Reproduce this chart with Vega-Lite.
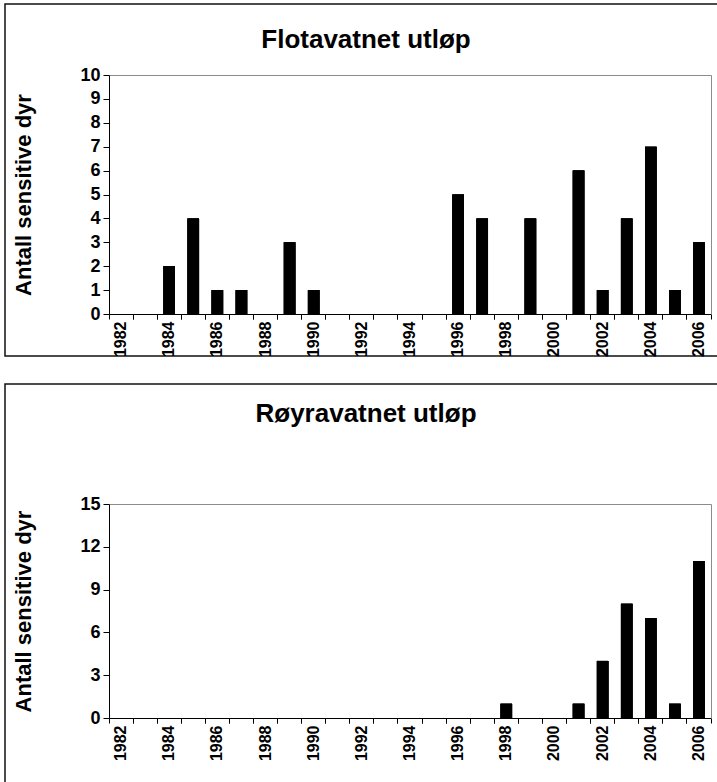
{
  "$schema": "https://vega.github.io/schema/vega-lite/v6.json",
  "background": "white",
  "padding": {"left": 4, "top": 3, "right": 0, "bottom": 0},
  "spacing": 25,
  "datasets": {
    "flota": [
      {"year": 1982, "n": 0}, {"year": 1983, "n": 0}, {"year": 1984, "n": 2}, {"year": 1985, "n": 4},
      {"year": 1986, "n": 1}, {"year": 1987, "n": 1}, {"year": 1988, "n": 0}, {"year": 1989, "n": 3},
      {"year": 1990, "n": 1}, {"year": 1991, "n": 0}, {"year": 1992, "n": 0}, {"year": 1993, "n": 0},
      {"year": 1994, "n": 0}, {"year": 1995, "n": 0}, {"year": 1996, "n": 5}, {"year": 1997, "n": 4},
      {"year": 1998, "n": 0}, {"year": 1999, "n": 4}, {"year": 2000, "n": 0}, {"year": 2001, "n": 6},
      {"year": 2002, "n": 1}, {"year": 2003, "n": 4}, {"year": 2004, "n": 7}, {"year": 2005, "n": 1},
      {"year": 2006, "n": 3}
    ],
    "royra": [
      {"year": 1982, "n": 0}, {"year": 1983, "n": 0}, {"year": 1984, "n": 0}, {"year": 1985, "n": 0},
      {"year": 1986, "n": 0}, {"year": 1987, "n": 0}, {"year": 1988, "n": 0}, {"year": 1989, "n": 0},
      {"year": 1990, "n": 0}, {"year": 1991, "n": 0}, {"year": 1992, "n": 0}, {"year": 1993, "n": 0},
      {"year": 1994, "n": 0}, {"year": 1995, "n": 0}, {"year": 1996, "n": 0}, {"year": 1997, "n": 0},
      {"year": 1998, "n": 1}, {"year": 1999, "n": 0}, {"year": 2000, "n": 0}, {"year": 2001, "n": 1},
      {"year": 2002, "n": 4}, {"year": 2003, "n": 8}, {"year": 2004, "n": 7}, {"year": 2005, "n": 1},
      {"year": 2006, "n": 11}
    ]
  },
  "config": {
    "view": {"stroke": "#111111", "strokeWidth": 1.5},
    "axis": {
      "labelFont": "Liberation Sans", "labelFontSize": 16, "labelFontWeight": "bold", "labelColor": "black",
      "titleFont": "Liberation Sans", "titleFontSize": 22, "titleFontWeight": "bold", "titleColor": "black",
      "tickColor": "black", "domainColor": "black", "grid": false
    },
    "title": {"font": "Liberation Sans", "fontSize": 26, "fontWeight": "bold", "color": "black", "anchor": "middle", "frame": "group", "baseline": "middle"}
  },
  "vconcat": [
    {
      "width": 722,
      "height": 352,
      "title": {"text": "Flotavatnet utløp", "offset": -49},
      "data": {"name": "flota"},
      "resolve": {"axis": {"x": "independent", "y": "independent"}},
      "layer": [
        {
          "mark": {"type": "bar", "color": "black", "width": {"band": 0.48}},
          "encoding": {
            "x": {"field": "year", "type": "ordinal", "scale": {"range": [104, 706], "paddingInner": 0, "paddingOuter": 0},
                  "axis": {"orient": "bottom", "offset": -42, "bandPosition": 0, "labels": false, "ticks": true, "tickSize": 5, "domain": true, "title": null}},
            "y": {"field": "n", "type": "quantitative", "scale": {"domain": [0, 10], "range": [310, 71], "nice": false},
                  "axis": {"orient": "left", "offset": -104, "values": [0, 1, 2, 3, 4, 5, 6, 7, 8, 9, 10], "tickSize": 6, "labelPadding": 3, "labelFontSize": 18, "title": "Antall sensitive dyr", "titlePadding": 44}}
          }
        },
        {
          "mark": {"type": "bar", "color": "black", "width": {"band": 0.48}},
          "encoding": {
            "x": {"field": "year", "type": "ordinal", "scale": {"range": [104, 706], "paddingInner": 0, "paddingOuter": 0},
                  "axis": {"orient": "bottom", "offset": -42, "values": [1982, 1984, 1986, 1988, 1990, 1992, 1994, 1996, 1998, 2000, 2002, 2004, 2006], "labelAngle": -90, "ticks": false, "tickSize": 0, "domain": false, "labelPadding": 7, "title": null}},
            "y": {"field": "n", "type": "quantitative", "scale": {"domain": [0, 10], "range": [310, 71], "nice": false},
                  "axis": {"orient": "right", "offset": -16, "labels": false, "ticks": false, "domain": true, "domainColor": "#8c8c8c", "title": null}}
          }
        },
        {
          "mark": {"type": "bar", "color": "black", "width": {"band": 0.48}},
          "encoding": {
            "x": {"field": "year", "type": "ordinal", "scale": {"range": [104, 706], "paddingInner": 0, "paddingOuter": 0},
                  "axis": {"orient": "bottom", "offset": -42, "bandPosition": 1, "labels": false, "tickSize": 5, "domain": false, "title": null}},
            "y": {"field": "n", "type": "quantitative", "axis": null}
          }
        },
        {
          "mark": {"type": "bar", "color": "black", "width": {"band": 0.48}},
          "encoding": {
            "x": {"field": "year", "type": "ordinal",
                  "axis": {"orient": "top", "offset": -71, "labels": false, "ticks": false, "domain": true, "domainColor": "#8c8c8c", "title": null}},
            "y": {"field": "n", "type": "quantitative", "axis": null}
          }
        }
      ]
    },
    {
      "width": 722,
      "height": 420,
      "title": {"text": "Røyravatnet utløp", "offset": -43},
      "data": {"name": "royra"},
      "resolve": {"axis": {"x": "independent", "y": "independent"}},
      "layer": [
        {
          "mark": {"type": "bar", "color": "black", "width": {"band": 0.48}},
          "encoding": {
            "x": {"field": "year", "type": "ordinal", "scale": {"range": [104, 706], "paddingInner": 0, "paddingOuter": 0},
                  "axis": {"orient": "bottom", "offset": -86, "bandPosition": 0, "labels": false, "ticks": true, "tickSize": 5, "domain": true, "title": null}},
            "y": {"field": "n", "type": "quantitative", "scale": {"domain": [0, 15], "range": [334, 120], "nice": false},
                  "axis": {"orient": "left", "offset": -104, "values": [0, 3, 6, 9, 12, 15], "tickSize": 6, "labelPadding": 3, "labelFontSize": 18, "title": "Antall sensitive dyr", "titlePadding": 44}}
          }
        },
        {
          "mark": {"type": "bar", "color": "black", "width": {"band": 0.48}},
          "encoding": {
            "x": {"field": "year", "type": "ordinal", "scale": {"range": [104, 706], "paddingInner": 0, "paddingOuter": 0},
                  "axis": {"orient": "bottom", "offset": -86, "values": [1982, 1984, 1986, 1988, 1990, 1992, 1994, 1996, 1998, 2000, 2002, 2004, 2006], "labelAngle": -90, "ticks": false, "tickSize": 0, "domain": false, "labelPadding": 7, "title": null}},
            "y": {"field": "n", "type": "quantitative", "scale": {"domain": [0, 15], "range": [334, 120], "nice": false},
                  "axis": {"orient": "right", "offset": -16, "labels": false, "ticks": false, "domain": true, "domainColor": "#8c8c8c", "title": null}}
          }
        },
        {
          "mark": {"type": "bar", "color": "black", "width": {"band": 0.48}},
          "encoding": {
            "x": {"field": "year", "type": "ordinal",
                  "axis": {"orient": "bottom", "offset": -86, "bandPosition": 1, "labels": false, "tickSize": 5, "domain": false, "title": null}},
            "y": {"field": "n", "type": "quantitative", "axis": null}
          }
        },
        {
          "mark": {"type": "bar", "color": "black", "width": {"band": 0.48}},
          "encoding": {
            "x": {"field": "year", "type": "ordinal",
                  "axis": {"orient": "top", "offset": -120, "labels": false, "ticks": false, "domain": true, "domainColor": "#8c8c8c", "title": null}},
            "y": {"field": "n", "type": "quantitative", "axis": null}
          }
        }
      ]
    }
  ]
}
